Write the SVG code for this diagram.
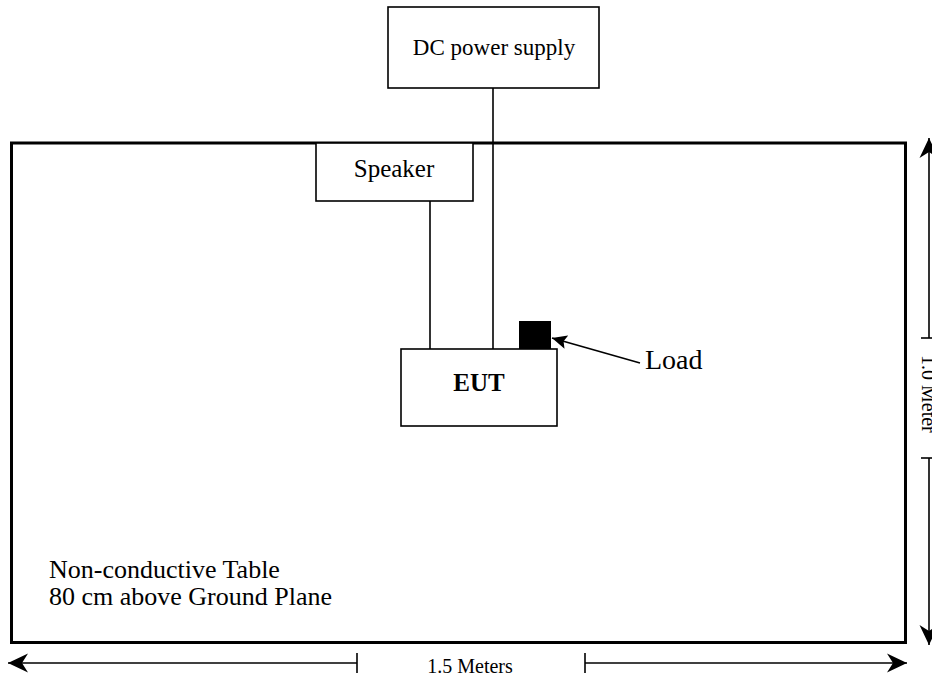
<svg xmlns="http://www.w3.org/2000/svg" width="932" height="679" viewBox="0 0 932 679">
<style>
  .box { fill: #fff; stroke: #000; stroke-width: 1.6; }
  .ln { fill: none; stroke: #000; stroke-width: 1.6; }
  .dim { fill: none; stroke: #000; stroke-width: 1.6; }
  .t { font-family: "Liberation Serif", "Times New Roman", serif; fill: #000; }
</style>
<defs>
  <marker id="dimArrow" markerUnits="userSpaceOnUse" viewBox="0 0 22 22" refX="21" refY="11" markerWidth="22" markerHeight="22" orient="auto-start-reverse">
    <path d="M21,11 L1,1.5 L7,11 L1,20.5 Z" fill="#000"/>
  </marker>
  <marker id="loadArrow" markerUnits="userSpaceOnUse" viewBox="0 0 16 14" refX="15" refY="7" markerWidth="16" markerHeight="14" orient="auto">
    <path d="M15,7 L0,0 L3,7 L0,14 Z" fill="#000"/>
  </marker>
</defs>

<g id="table">
  <rect x="11.5" y="143" width="894" height="499.5" fill="none" stroke="#000" stroke-width="3"/>
  <text class="t" x="49" y="578" font-size="26">Non-conductive Table</text>
  <text class="t" x="49" y="605" font-size="26">80 cm above Ground Plane</text>
</g>

<g id="connectors">
  <line class="ln" x1="493" y1="88" x2="493" y2="349"/>
  <line class="ln" x1="430" y1="201" x2="430" y2="349"/>
  <line class="ln" x1="640" y1="363" x2="552" y2="338" stroke-width="2.2" marker-end="url(#loadArrow)"/>
</g>

<g id="dc-power-supply">
  <rect class="box" x="388" y="7" width="211" height="81"/>
  <text class="t" x="494" y="55" font-size="23" text-anchor="middle">DC power supply</text>
</g>

<g id="speaker">
  <rect class="box" x="316" y="143" width="157" height="58"/>
  <text class="t" x="394" y="177" font-size="25" text-anchor="middle">Speaker</text>
</g>

<g id="eut">
  <rect class="box" x="401" y="349" width="156" height="77"/>
  <text class="t" x="479" y="391" font-size="25" font-weight="bold" text-anchor="middle">EUT</text>
</g>

<g id="load">
  <rect x="519" y="321" width="32" height="28" fill="#000"/>
  <text class="t" x="645" y="369" font-size="28">Load</text>
</g>

<g id="dimension-width">
  <line class="dim" x1="357" y1="663" x2="8" y2="663" marker-end="url(#dimArrow)"/>
  <line class="dim" x1="357" y1="653" x2="357" y2="673"/>
  <line class="dim" x1="585" y1="663" x2="907" y2="663" marker-end="url(#dimArrow)"/>
  <line class="dim" x1="585" y1="653" x2="585" y2="673"/>
  <text class="t" x="470" y="673" font-size="20" text-anchor="middle">1.5 Meters</text>
</g>

<g id="dimension-height">
  <line class="dim" x1="929" y1="338" x2="929" y2="138" marker-end="url(#dimArrow)"/>
  <line class="dim" x1="921" y1="338" x2="932" y2="338"/>
  <line class="dim" x1="929" y1="458" x2="929" y2="645" marker-end="url(#dimArrow)"/>
  <line class="dim" x1="921" y1="458" x2="932" y2="458"/>
  <text class="t" transform="translate(922,355) rotate(90)" font-size="20">1.0 Meter</text>
</g>
</svg>
